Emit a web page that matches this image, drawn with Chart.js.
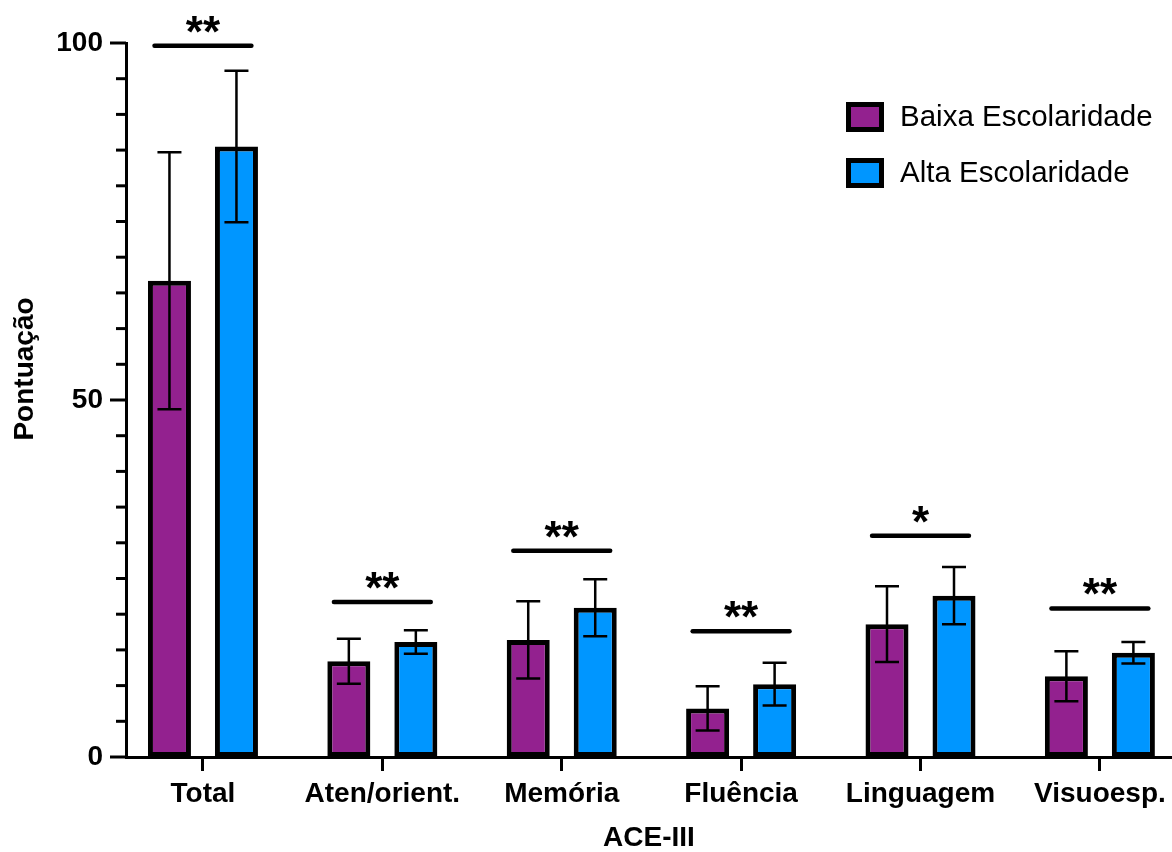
<!DOCTYPE html>
<html lang="pt">
<head>
<meta charset="utf-8">
<title>ACE-III</title>
<script src="https://cdn.jsdelivr.net/npm/chart.js@4"></script>
<style>
    html, body { margin: 0; padding: 0; background: #fff; }
    #wrap { width: 1172px; height: 852px; position: relative; }
</style>
</head>
<body>
<div id="wrap"><canvas id="aceChart"></canvas></div>
<script>
    const categories = ['Total', 'Aten/orient.', 'Memória', 'Fluência', 'Linguagem', 'Visuoesp.'];
    const seriesNames = ['Baixa Escolaridade', 'Alta Escolaridade'];
    const baixaMeans = [66.7, 13.4, 16.4, 6.8, 18.6, 11.3];
    const baixaSD = [18.0, 3.15, 5.4, 3.1, 5.3, 3.5];
    const altaMeans = [85.5, 16.1, 20.9, 10.2, 22.6, 14.6];
    const altaSD = [10.6, 1.65, 4.0, 3.0, 4.0, 1.5];
    const bracketLevels = [99.6, 21.7, 28.9, 17.6, 31.0, 20.8];
    const significance = ['**', '**', '**', '**', '*', '**'];
    const labelledTicks = [0, 50, 100];

    const FONT = '"Liberation Sans", Arial, Helvetica, sans-serif';
    const PURPLE = '#93218f';
    const BLUE = '#0096ff';

    // error bars, significance brackets, minor ticks, legend and axis titles
    const extrasPlugin = {
        id: 'extras',
        afterDatasetsDraw(chart) {
            const ctx = chart.ctx;
            const x = chart.scales.x;
            const y = chart.scales.y;
            const sds = [baixaSD, altaSD];

            ctx.save();
            ctx.strokeStyle = '#000';
            ctx.lineWidth = 2.5;
            chart.data.datasets.forEach((ds, d) => {
                chart.getDatasetMeta(d).data.forEach((bar, i) => {
                    const mean = ds.data[i].y;
                    const top = y.getPixelForValue(mean + sds[d][i]);
                    const bottom = y.getPixelForValue(mean - sds[d][i]);
                    ctx.beginPath();
                    ctx.moveTo(bar.x, top);
                    ctx.lineTo(bar.x, bottom);
                    ctx.moveTo(bar.x - 12, top);
                    ctx.lineTo(bar.x + 12, top);
                    ctx.moveTo(bar.x - 12, bottom);
                    ctx.lineTo(bar.x + 12, bottom);
                    ctx.stroke();
                });
            });

            ctx.lineWidth = 4.5;
            ctx.lineCap = 'round';
            ctx.fillStyle = '#000';
            ctx.font = 'bold 44px ' + FONT;
            ctx.textAlign = 'center';
            ctx.textBaseline = 'alphabetic';
            bracketLevels.forEach((level, i) => {
                const py = y.getPixelForValue(level);
                ctx.beginPath();
                ctx.moveTo(x.getPixelForValue(i - 0.27), py);
                ctx.lineTo(x.getPixelForValue(i + 0.27), py);
                ctx.stroke();
                ctx.fillText(significance[i], x.getPixelForValue(i), py + 1);
            });
            ctx.restore();
        },
        afterDraw(chart) {
            const ctx = chart.ctx;
            const area = chart.chartArea;
            const y = chart.scales.y;

            ctx.save();
            ctx.strokeStyle = '#000';
            ctx.lineWidth = 3;
            y.ticks.forEach(tick => {
                const py = y.getPixelForValue(tick.value);
                const len = labelledTicks.includes(tick.value) ? 16 : 10;
                ctx.beginPath();
                ctx.moveTo(area.left - len, py);
                ctx.lineTo(area.left, py);
                ctx.stroke();
            });

            // legend
            const lx = area.right - 326;
            const colors = [PURPLE, BLUE];
            ctx.font = '29.5px ' + FONT;
            ctx.textBaseline = 'middle';
            ctx.textAlign = 'left';
            seriesNames.forEach((name, k) => {
                const cy = 117 + k * 56;
                ctx.fillStyle = colors[k];
                ctx.fillRect(lx, cy - 15, 38, 30);
                ctx.lineWidth = 5;
                ctx.strokeRect(lx + 2.5, cy - 12.5, 33, 25);
                ctx.fillStyle = '#000';
                ctx.fillText(name, lx + 54, cy + 1);
            });

            // axis titles
            ctx.font = 'bold 28px ' + FONT;
            ctx.textAlign = 'center';
            ctx.fillText('ACE-III', (area.left + area.right) / 2, 838);
            ctx.translate(25, 369);
            ctx.rotate(-Math.PI / 2);
            ctx.fillText('Pontuação', 0, 0);
            ctx.restore();
        }
    };

    function buildDataset(label, means, color) {
        return {
            label,
            data: means.map((v, i) => ({ x: i, y: v })),
            backgroundColor: color,
            borderColor: '#000',
            borderWidth: 5,
            borderSkipped: false,
            categoryPercentage: 0.747,
            barPercentage: 0.642
        };
    }

    new Chart(document.getElementById('aceChart'), {
        type: 'bar',
        data: {
            datasets: [
                buildDataset(seriesNames[0], baixaMeans, PURPLE),
                buildDataset(seriesNames[1], altaMeans, BLUE)
            ]
        },
        options: {
            responsive: true,
            maintainAspectRatio: false,
            animation: false,
            layout: { padding: { top: 43, right: 0, left: 0, bottom: 0 } },
            scales: {
                x: {
                    type: 'linear',
                    offset: false,
                    bounds: 'data',
                    min: -0.429,
                    max: 5.402,
                    afterFit: scale => { scale.height = 95; },
                    afterBuildTicks: scale => {
                        scale.ticks = categories.map((c, i) => ({ value: i }));
                    },
                    border: { display: true, color: '#000', width: 3 },
                    grid: {
                        display: true,
                        offset: false,
                        drawOnChartArea: false,
                        drawTicks: true,
                        tickLength: 14,
                        lineWidth: 3,
                        color: '#000'
                    },
                    ticks: {
                        autoSkip: false,
                        maxRotation: 0,
                        padding: 6,
                        color: '#000',
                        font: { family: FONT, size: 28, weight: 'bold' },
                        callback: value => categories[value] ?? ''
                    }
                },
                y: {
                    min: 0,
                    max: 100,
                    afterFit: scale => { scale.width = 126; },
                    border: { display: true, color: '#000', width: 3 },
                    grid: { display: false, drawTicks: true, tickLength: 16 },
                    ticks: {
                        stepSize: 5,
                        autoSkip: false,
                        padding: 7,
                        color: '#000',
                        font: { family: FONT, size: 28, weight: 'bold' },
                        callback: value => labelledTicks.includes(value) ? String(value) : ''
                    }
                }
            },
            plugins: {
                legend: { display: false },
                tooltip: { enabled: false }
            }
        },
        plugins: [extrasPlugin]
    });
</script>
</body>
</html>
